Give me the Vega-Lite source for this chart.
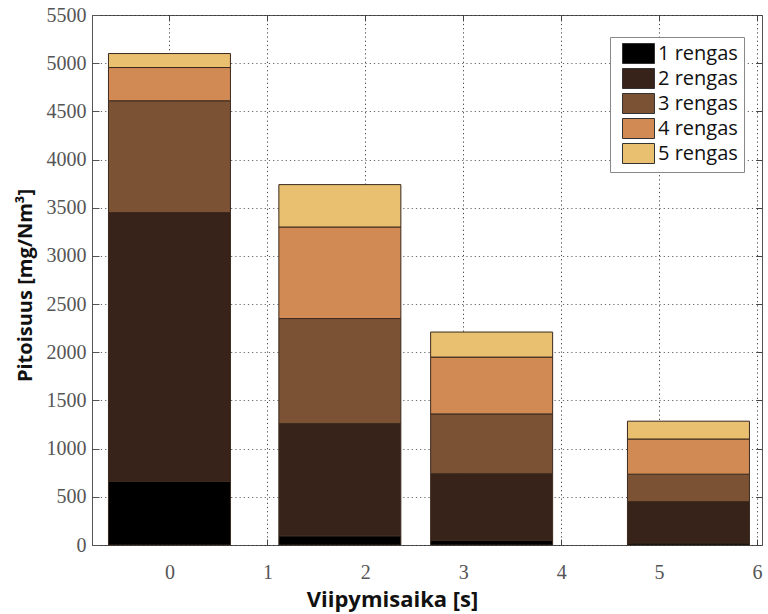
{
  "$schema": "https://vega.github.io/schema/vega-lite/v6.json",
  "width": 670,
  "height": 530,
  "autosize": {"type": "none"},
  "padding": {"left": 92, "top": 15, "right": 6, "bottom": 69},
  "background": "white",
  "config": {"view": {"stroke": "#555", "strokeWidth": 1}},
  "data": {
    "values": [
      {"aika": 0, "renkaat": 1, "rengas": "1 rengas", "pitoisuus": 660},
      {"aika": 0, "renkaat": 2, "rengas": "2 rengas", "pitoisuus": 2790},
      {"aika": 0, "renkaat": 3, "rengas": "3 rengas", "pitoisuus": 1160},
      {"aika": 0, "renkaat": 4, "rengas": "4 rengas", "pitoisuus": 345},
      {"aika": 0, "renkaat": 5, "rengas": "5 rengas", "pitoisuus": 145},
      {"aika": 1.74, "renkaat": 1, "rengas": "1 rengas", "pitoisuus": 95},
      {"aika": 1.74, "renkaat": 2, "rengas": "2 rengas", "pitoisuus": 1165},
      {"aika": 1.74, "renkaat": 3, "rengas": "3 rengas", "pitoisuus": 1090},
      {"aika": 1.74, "renkaat": 4, "rengas": "4 rengas", "pitoisuus": 950},
      {"aika": 1.74, "renkaat": 5, "rengas": "5 rengas", "pitoisuus": 440},
      {"aika": 3.29, "renkaat": 1, "rengas": "1 rengas", "pitoisuus": 50},
      {"aika": 3.29, "renkaat": 2, "rengas": "2 rengas", "pitoisuus": 690},
      {"aika": 3.29, "renkaat": 3, "rengas": "3 rengas", "pitoisuus": 620},
      {"aika": 3.29, "renkaat": 4, "rengas": "4 rengas", "pitoisuus": 590},
      {"aika": 3.29, "renkaat": 5, "rengas": "5 rengas", "pitoisuus": 260},
      {"aika": 5.3, "renkaat": 1, "rengas": "1 rengas", "pitoisuus": 20},
      {"aika": 5.3, "renkaat": 2, "rengas": "2 rengas", "pitoisuus": 430},
      {"aika": 5.3, "renkaat": 3, "rengas": "3 rengas", "pitoisuus": 285},
      {"aika": 5.3, "renkaat": 4, "rengas": "4 rengas", "pitoisuus": 365},
      {"aika": 5.3, "renkaat": 5, "rengas": "5 rengas", "pitoisuus": 185}
    ]
  },
  "layer": [
    {
      "mark": {"type": "bar", "size": 122, "stroke": "#3b2a1e", "strokeWidth": 1},
      "encoding": {
        "x": {
          "field": "aika",
          "type": "quantitative",
          "scale": {"domain": [-0.74, 6], "nice": false, "zero": false},
          "axis": {
            "values": [0, 1, 2, 3, 4, 5, 6],
            "grid": true,
            "gridDash": [1.2, 3],
            "gridColor": "#222",
            "gridOpacity": 0.85,
            "domain": false,
            "tickSize": -6,
            "tickColor": "#444",
            "labelFont": "Liberation Serif",
            "labelFontSize": 20,
            "labelColor": "#555",
            "labelPadding": 23,
            "title": "Viipymisaika [s]",
            "titleFont": "Open Sans",
            "titleFontSize": 22,
            "titleFontWeight": "bold",
            "titleColor": "#111",
            "titleX": 300,
            "titleY": 54,
            "titleBaseline": "middle"
          }
        },
        "y": {
          "field": "pitoisuus",
          "type": "quantitative",
          "stack": "zero",
          "scale": {"domain": [0, 5500], "nice": false},
          "axis": {
            "values": [0, 500, 1000, 1500, 2000, 2500, 3000, 3500, 4000, 4500, 5000, 5500],
            "format": "d",
            "grid": true,
            "gridDash": [1.2, 3],
            "gridColor": "#222",
            "gridOpacity": 0.7,
            "domain": false,
            "tickSize": -7,
            "tickColor": "#555",
            "labelFont": "Liberation Serif",
            "labelFontSize": 20,
            "labelColor": "#555",
            "labelPadding": 13,
            "title": "Pitoisuus [mg/Nm³]",
            "titleFont": "Open Sans",
            "titleFontSize": 20,
            "titleFontWeight": "bold",
            "titleColor": "#111",
            "titleX": -67,
            "titleY": 270,
            "titleBaseline": "middle"
          }
        },
        "color": {
          "field": "rengas",
          "type": "nominal",
          "scale": {
            "domain": ["1 rengas", "2 rengas", "3 rengas", "4 rengas", "5 rengas"],
            "range": ["#000000", "#38231a", "#7b5234", "#d28a54", "#e9bf70"]
          },
          "legend": {
            "orient": "none",
            "legendX": 518,
            "legendY": 22,
            "title": null,
            "symbolType": "M-1.6,-1H1.6V1H-1.6Z",
            "symbolSize": 400,
            "symbolStrokeColor": "#333",
            "symbolStrokeWidth": 1,
            "symbolOpacity": 1,
            "symbolOffset": 12,
            "labelOffset": 9,
            "labelFont": "Open Sans",
            "labelFontSize": 20,
            "labelColor": "#111",
            "rowPadding": 0,
            "padding": 6,
            "strokeColor": "#888",
            "fillColor": "white"
          }
        },
        "order": {"field": "renkaat", "type": "quantitative", "sort": "ascending"}
      }
    },
    {
      "mark": {"type": "bar", "size": 122, "opacity": 0},
      "encoding": {
        "x": {
          "field": "aika",
          "type": "quantitative",
          "axis": {
            "orient": "top",
            "values": [0, 1, 2, 3, 4, 5, 6],
            "labels": false,
            "grid": false,
            "domain": false,
            "tickSize": -6,
            "tickColor": "#444",
            "title": null
          }
        },
        "y": {
          "field": "pitoisuus",
          "type": "quantitative",
          "stack": null,
          "axis": {
            "orient": "right",
            "values": [0, 500, 1000, 1500, 2000, 2500, 3000, 3500, 4000, 4500, 5000, 5500],
            "labels": false,
            "grid": false,
            "domain": false,
            "tickSize": -6,
            "tickColor": "#444",
            "title": null
          }
        }
      }
    }
  ],
  "resolve": {"axis": {"x": "independent", "y": "independent"}}
}
